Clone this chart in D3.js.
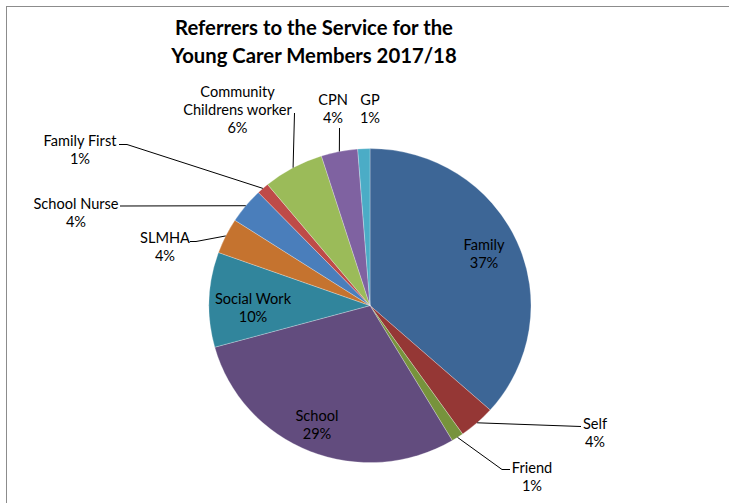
<!DOCTYPE html>
<html>
<head>
<meta charset="utf-8">
<script src="https://cdn.jsdelivr.net/npm/d3@7/dist/d3.min.js"></script>
<style>
  html, body { margin: 0; padding: 0; background: #fff; }
  svg { display: block; }
  text { font-family: Lato, "Open Sans", sans-serif; fill: #000; }
</style>
</head>
<body>
<svg id="chart" width="729" height="503"></svg>
<script>
// Referral sources (counts), clockwise from 12 o'clock
const categories = ["Family", "Self", "Friend", "School", "Social Work", "SLMHA",
  "School Nurse", "Family First", "Community Childrens worker", "CPN", "GP"];
const counts = [30, 3, 1, 24, 8, 3, 3, 1, 5, 3, 1];
const colors = ["#3d6696", "#953735", "#77933c", "#624c7e", "#31859c", "#c5732f",
  "#4a7ebb", "#be4b48", "#9bbb59", "#7f62a1", "#4bacc6"];
const titleLines = ["Referrers to the Service for the", "Young Carer Members 2017/18"];

// Label layout: text lines, centre x, first baseline y, leader points (from label outward)
const labelLayout = [
  { lines: ["Family"], x: 484, y: 250, leader: null },
  { lines: ["Self"], x: 595, y: 429, leader: [[581, 426.5]] },
  { lines: ["Friend"], x: 532, y: 473, leader: [[510, 469.5], [502, 469.5]] },
  { lines: ["School"], x: 317, y: 421, leader: null },
  { lines: ["Social Work"], x: 253, y: 303.5, leader: null },
  { lines: ["SLMHA"], x: 165, y: 242.5, leader: [[190, 241.5], [196, 241.5]] },
  { lines: ["School Nurse"], x: 76, y: 208.5, leader: [[120, 206]] },
  { lines: ["Family First"], x: 80, y: 146, leader: [[119, 144.5], [127, 144.5]] },
  { lines: ["Community", "Childrens worker"], x: 237.5, y: 97, leader: [[294.5, 113]] },
  { lines: ["CPN"], x: 333, y: 105, leader: [[339.5, 128]] },
  { lines: ["GP"], x: 370, y: 105, leader: null }
];

const svg = d3.select("#chart");
const cx = 370, cy = 305.6, r = 157, sx = 161 / 157;

// Chart area border
svg.append("rect")
  .attr("x", 6.5).attr("y", 6.5)
  .attr("width", 800).attr("height", 600)
  .attr("fill", "none").attr("stroke", "#8c8c8c").attr("stroke-width", 1);

// Title
svg.append("g").selectAll("text").data(titleLines).join("text")
  .attr("x", 314).attr("y", (d, i) => 34.5 + i * 28.8)
  .attr("text-anchor", "middle")
  .attr("font-size", 20.3).attr("font-weight", "bold")
  .text(d => d);

const total = d3.sum(counts);
const pct = v => Math.round(v / total * 100) + "%";

const pie = d3.pie().sort(null).value(d => d)(counts);
const arc = d3.arc().innerRadius(0).outerRadius(r);

const g = svg.append("g").attr("transform", `translate(${cx},${cy}) scale(${sx},1)`);
g.selectAll("path").data(pie).join("path")
  .attr("d", arc)
  .attr("fill", (d, i) => colors[i])
  .attr("stroke", "#ffffff").attr("stroke-opacity", 0.45).attr("stroke-width", 0.6)
  .attr("vector-effect", "non-scaling-stroke");

// Leader lines from each outside label to the rim of its slice
const edgePoint = d => {
  const a = (d.startAngle + d.endAngle) / 2;
  return [cx + sx * r * Math.sin(a), cy - r * Math.cos(a)];
};
const line = d3.line();
svg.append("g").selectAll("path")
  .data(pie.filter((d, i) => labelLayout[i].leader))
  .join("path")
  .attr("d", d => line([...labelLayout[d.index].leader, edgePoint(d)]))
  .attr("fill", "none").attr("stroke", "#000").attr("stroke-width", 1);

// Category and percentage labels
const lg = svg.append("g");
pie.forEach((d, i) => {
  const L = labelLayout[i];
  const t = lg.append("text").attr("text-anchor", "middle").attr("font-size", 14.6);
  [...L.lines, pct(counts[i])].forEach((s, k) => {
    t.append("tspan").attr("x", L.x).attr("y", L.y + k * 18.2).text(s);
  });
});
</script>
</body>
</html>
